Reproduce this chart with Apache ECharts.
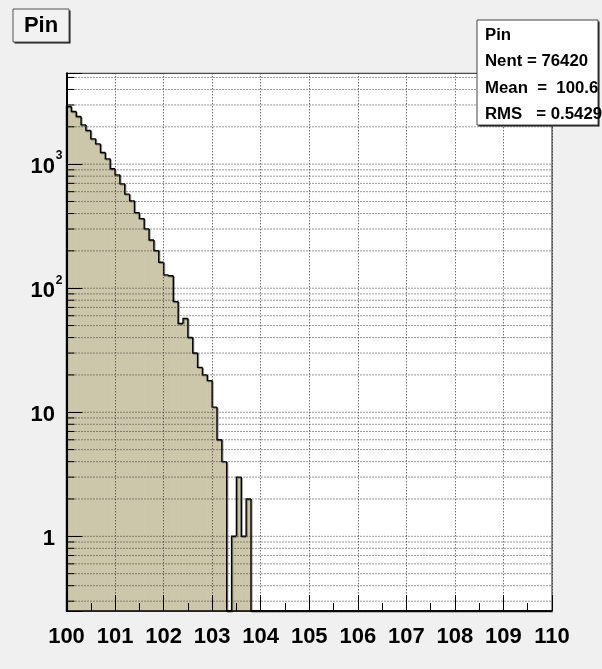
<!DOCTYPE html>
<html><head><meta charset="utf-8">
<script src="https://cdn.jsdelivr.net/npm/echarts@6/dist/echarts.min.js"></script>
<style>html,body{margin:0;padding:0;background:#f0f0f0;} #c{width:602px;height:669px;}</style>
</head><body><div id="c"></div>
<script>
// ---- data ----
const histName = 'Pin';
const xMin = 100, xMax = 110, binWidth = 0.1;
// bin contents, bins of width 0.1 starting at 100.0
const counts = [
  2912, 2654, 2419, 2073, 1866, 1599, 1457, 1240, 1103, 917,
  820, 694, 573, 506, 407, 364, 301, 245, 201, 162,
  128, 126, 78, 52, 57, 40, 30, 23, 20, 18,
  11, 6, 4, 0, 1, 3, 1, 2, 0, 0,
  0, 0, 0, 0, 0, 0, 0, 0, 0, 0,
  0, 0, 0, 0, 0, 0, 0, 0, 0, 0,
  0, 0, 0, 0, 0, 0, 0, 0, 0, 0,
  0, 0, 0, 0, 0, 0, 0, 0, 0, 0,
  0, 0, 0, 0, 0, 0, 0, 0, 0, 0,
  0, 0, 0, 0, 0, 0, 0, 0, 0, 0
];
const xTickLabels = ['100','101','102','103','104','105','106','107','108','109','110'];
const yMin = 0.25, yMax = 5400;
const decades = [0.1, 1, 10, 100, 1000];
const multiples = [1, 2, 3, 4, 5, 6, 7, 8, 9];
const statsLines = ['Pin', 'Nent = 76420', 'Mean  =  100.6', 'RMS   = 0.5429'];

// ---- build ----
const FONT = '"Liberation Sans", Arial, Helvetica, sans-serif';
const histData = counts.map((c, i) => [xMin + i * binWidth, xMin + (i + 1) * binWidth, c, i > 0 ? counts[i - 1] : 0]);
const gridVals = [];
decades.forEach(d => multiples.forEach(m => {
  const v = d * m;
  if (v >= yMin && v <= yMax) gridVals.push([xMin, v, m === 1 ? 1 : 0]);
}));

function renderHist(params, api) {
  const cs = params.coordSys;
  const bottom = cs.y + cs.height;
  const x0 = api.value(0), x1 = api.value(1), c = api.value(2), p = api.value(3);
  const yOf = v => (v > 0 ? api.coord([x0, v])[1] : bottom);
  const px0 = api.coord([x0, yMin])[0];
  const px1 = api.coord([x1, yMin])[0];
  const yc = yOf(c), yp = yOf(p);
  const children = [];
  if (c > 0) {
    children.push({ type: 'rect', shape: { x: px0, y: yc, width: px1 - px0 + 0.6, height: bottom - yc },
      style: { fill: '#ccc7aa' } });
  }
  children.push({ type: 'polyline', shape: { points: [[px0, yp], [px0, yc], [px1, yc]] },
    style: { stroke: '#000', lineWidth: 1.4, fill: null,
      shadowColor: 'rgba(0,0,0,0.35)', shadowOffsetX: 1, shadowOffsetY: 1, shadowBlur: 0 } });
  return { type: 'group', children };
}

function renderGrid(params, api) {
  const cs = params.coordSys;
  const y = api.coord([xMin, api.value(1)])[1];
  const major = api.value(2) === 1;
  const children = [{ type: 'line', shape: { x1: cs.x, y1: y, x2: cs.x + cs.width, y2: y },
    style: { stroke: '#333', lineWidth: 1, lineDash: [1, 2] } }];
  if (!major) {
    children.push({ type: 'line', shape: { x1: cs.x, y1: y, x2: cs.x + 8, y2: y },
      style: { stroke: '#000', lineWidth: 1 } });
  }
  return { type: 'group', children };
}

function yLabel(v) {
  const k = Math.round(Math.log10(v));
  if (Math.abs(v - Math.pow(10, k)) / Math.pow(10, k) > 1e-6) return '';
  if (k === 0) return '{b|1}{s| }';
  if (k === 1) return '{b|10}{s| }';
  return '{b|10}{s|' + k + '}';
}

const chart = echarts.init(document.getElementById('c'), null, { renderer: 'canvas' });
chart.setOption({
  backgroundColor: '#f0f0f0',
  animation: false,
  grid: { left: 66.5, right: 50, top: 73.3, bottom: 58, show: true, backgroundColor: '#fff',
    borderColor: '#222', borderWidth: 1 },
  xAxis: {
    type: 'value', min: xMin, max: xMax, interval: 1, z: 10,
    axisLine: { show: true, onZero: false, lineStyle: { color: '#000', width: 1.5 } },
    axisTick: { show: true, inside: true, length: 16, lineStyle: { color: '#000', width: 1 } },
    minorTick: { show: true, splitNumber: 2, length: 8, lineStyle: { color: '#000', width: 1 } },
    splitLine: { show: true, lineStyle: { color: '#333', width: 1, type: [1, 2] } },
    axisLabel: { margin: 15, color: '#000', fontSize: 22, fontWeight: 'bold', fontFamily: FONT,
      formatter: v => xTickLabels[Math.round(v - xMin)] },
  },
  yAxis: {
    type: 'log', logBase: 10, min: yMin, max: yMax, z: 10,
    axisLine: { show: true, onZero: false, lineStyle: { color: '#000', width: 2 } },
    axisTick: { show: true, inside: true, length: 16, lineStyle: { color: '#000', width: 1 } },
    splitLine: { show: false },
    axisLabel: { margin: 3.5, color: '#000', formatter: yLabel,
      rich: {
        b: { fontSize: 22, fontWeight: 'bold', fontFamily: FONT, color: '#000', lineHeight: 28, verticalAlign: 'bottom' },
        s: { fontSize: 12, fontWeight: 'bold', fontFamily: FONT, color: '#000', width: 8, align: 'left', lineHeight: 14, verticalAlign: 'top' }
      } },
  },
  series: [
    { type: 'custom', name: histName, renderItem: renderHist, data: histData, z: 2,
      encode: { x: [0, 1], y: 2 }, silent: true },
    { type: 'custom', name: 'grid', renderItem: renderGrid, data: gridVals, z: 3,
      encode: { x: 0, y: 1 }, silent: true }
  ],
  graphic: [
    { type: 'rect', z: 100, shape: { x: 14.5, y: 10.5, width: 56, height: 33 }, style: { fill: '#111' } },
    { type: 'rect', z: 101, shape: { x: 13, y: 9, width: 56, height: 33 }, style: { fill: '#f2f2f2', stroke: '#555', lineWidth: 1 } },
    { type: 'text', z: 102, x: 41, y: 26, style: { text: histName, font: 'bold 22px ' + FONT, fill: '#000', align: 'center', verticalAlign: 'middle' } },
    { type: 'rect', z: 100, shape: { x: 478.5, y: 21.5, width: 121, height: 105 }, style: { fill: '#111' } },
    { type: 'rect', z: 101, shape: { x: 477, y: 20, width: 121, height: 105 }, style: { fill: '#fff', stroke: '#444', lineWidth: 1 } },
    ...statsLines.map((t, i) => ({ type: 'text', z: 102, x: 485, y: 35 + i * 26.6,
      style: { text: t, font: 'bold 16.8px ' + FONT, fill: '#000', align: 'left', verticalAlign: 'middle' } }))
  ]
});
</script>
</body></html>
